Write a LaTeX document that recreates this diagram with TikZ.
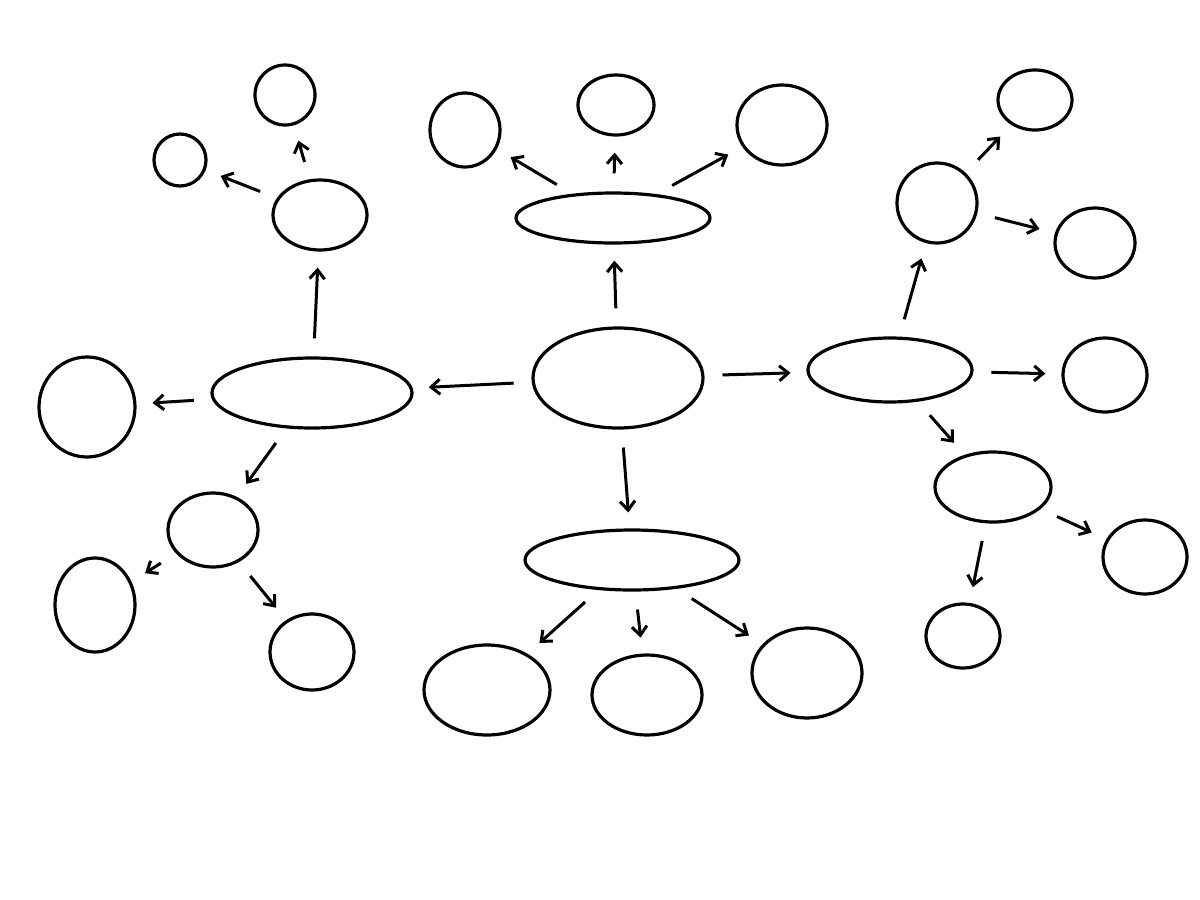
\documentclass[tikz,border=0pt]{standalone}
\usetikzlibrary{shapes.geometric,arrows.meta}
\begin{document}
\begin{tikzpicture}[x=1pt,y=-1pt,
  bub/.style={draw,ellipse,line width=3.2pt,inner sep=0pt},
  arr/.style={line width=3pt,-{Straight Barb[length=9pt,width=15pt]},shorten <=18pt,shorten >=16pt}]
\useasboundingbox (0,0) rectangle (1200,900);
\fill[white] (0,0) rectangle (1200,900);
\def\B(#1,#2,#3,#4,#5){\node[bub,minimum width=#4pt,minimum height=#5pt] (#1) at (#2,#3) {};}
\B(c,618,378,170,100)
\B(t,613,218,194,50)
\B(t1,465,130,70,74)
\B(t2,616,105,76,60)
\B(t3,782,125,90,80)
\B(l,312,393,200,70)
\B(lu,320,215,94,70)
\B(lu1,285,95,60,60)
\B(lu2,180,160,52,52)
\B(lf,87,407,96,100)
\B(ld,213,530,90,74)
\B(ld1,95,605,80,94)
\B(ld2,312,652,84,76)
\B(r,890,370,164,64)
\B(ru,937,203,80,80)
\B(ru1,1035,100,74,60)
\B(ru2,1095,243,80,70)
\B(rr,1105,375,84,74)
\B(rd,993,487,116,70)
\B(rd1,1145,557,84,74)
\B(rd2,963,636,74,64)
\B(b,632,560,214,60)
\B(b1,487,690,126,90)
\B(b2,647,695,110,80)
\B(b3,807,673,110,90)
\foreach \a/\z in {c/t,c/l,c/r,c/b,t/t1,t/t2,t/t3,l/lu,l/lf,l/ld,lu/lu1,lu/lu2,ld/ld1,ld/ld2,r/ru,r/rr,r/rd,ru/ru1,ru/ru2,rd/rd1,rd/rd2,b/b1,b/b2,b/b3}
  \draw[arr] (\a) -- (\z);
\end{tikzpicture}
\end{document}
